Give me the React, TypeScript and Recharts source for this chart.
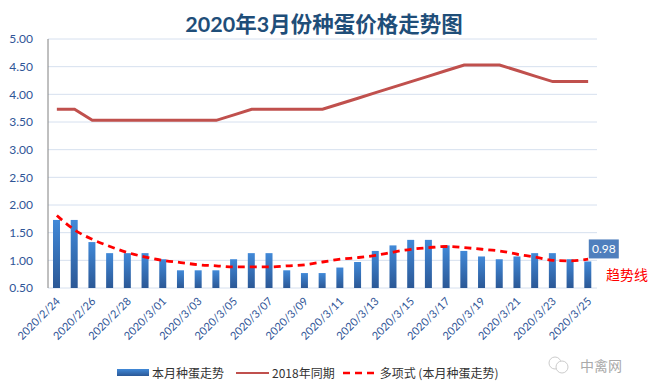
import { Bar, CartesianGrid, ComposedChart, LabelList, Line, XAxis, YAxis } from 'recharts';

const dates = [
  '2020/2/24', '2020/2/25', '2020/2/26', '2020/2/27', '2020/2/28', '2020/2/29',
  '2020/3/01', '2020/3/02', '2020/3/03', '2020/3/04', '2020/3/05', '2020/3/06',
  '2020/3/07', '2020/3/08', '2020/3/09', '2020/3/10', '2020/3/11', '2020/3/12',
  '2020/3/13', '2020/3/14', '2020/3/15', '2020/3/16', '2020/3/17', '2020/3/18',
  '2020/3/19', '2020/3/20', '2020/3/21', '2020/3/22', '2020/3/23', '2020/3/24',
  '2020/3/25',
];

// 本月种蛋走势
const thisMonth = [
  1.73, 1.73, 1.33, 1.13, 1.13, 1.13, 1.02, 0.82, 0.82, 0.82, 1.02, 1.13, 1.13,
  0.82, 0.77, 0.77, 0.87, 0.97, 1.17, 1.27, 1.37, 1.37, 1.27, 1.17, 1.07, 1.02,
  1.07, 1.13, 1.13, 1.02, 0.98,
];

// 2018年同期
const lastYear = [
  3.73, 3.73, 3.53, 3.53, 3.53, 3.53, 3.53, 3.53, 3.53, 3.53, 3.63, 3.73, 3.73,
  3.73, 3.73, 3.73, 3.83, 3.93, 4.03, 4.13, 4.23, 4.33, 4.43, 4.53, 4.53, 4.53,
  4.43, 4.33, 4.23, 4.23, 4.23,
];

// 多项式 (本月种蛋走势)
const trend = [
  1.81, 1.55, 1.38, 1.25, 1.14, 1.06, 1.0, 0.96, 0.92, 0.9, 0.88, 0.88, 0.88,
  0.9, 0.92, 0.97, 1.02, 1.05, 1.09, 1.15, 1.2, 1.23, 1.25, 1.23, 1.2, 1.17,
  1.11, 1.06, 1.0, 0.99, 1.02,
];

const yTicks = [0.5, 1, 1.5, 2, 2.5, 3, 3.5, 4, 4.5, 5];

const data = dates.map((date, i) => ({
  date,
  price: thisMonth[i],
  last: lastYear[i],
  trend: trend[i],
}));

const NUM_FONT = 'Lato, "Noto Sans CJK SC", sans-serif';
const CJK_FONT = '"Noto Sans CJK SC", Lato, sans-serif';
const AXIS_BLUE = '#2F5597';

const XTick = ({ x, y, payload }: any) => (
  <text
    x={x + 4}
    y={y + 6}
    transform={`rotate(-45, ${x + 4}, ${y + 6})`}
    textAnchor="end"
    fill={AXIS_BLUE}
    fontSize={11}
    fontFamily={NUM_FONT}
  >
    {payload.value}
  </text>
);

const LastLabel = (props: any) => {
  const { x, y, width, value, index } = props;
  if (index !== data.length - 1) return null;
  const bx = x + width / 2 + 1;
  const by = y - 22;
  return (
    <g>
      <rect x={bx} y={by} width={30} height={19} fill="#4F7FBD" />
      <text
        x={bx + 15}
        y={by + 14}
        textAnchor="middle"
        fill="#fff"
        fontSize={12}
        fontFamily={NUM_FONT}
      >
        {value.toFixed(2)}
      </text>
    </g>
  );
};

const legendText = { fontSize: 12, color: '#333', fontFamily: CJK_FONT };

export default function App() {
  return (
    <div
      style={{
        position: 'absolute',
        left: 0,
        top: 0,
        width: 648,
        height: 391,
        background: '#fff',
        overflow: 'hidden',
      }}
    >
      <div
        style={{
          position: 'absolute',
          left: 0,
          top: 10,
          width: 648,
          textAlign: 'center',
          fontSize: 21.5,
          fontWeight: 'bold',
          color: '#1F4E79',
          fontFamily: NUM_FONT,
          lineHeight: '28px',
        }}
      >
        2020年3月份种蛋价格走势图
      </div>

      <ComposedChart
        width={648}
        height={391}
        data={data}
        margin={{ top: 39, right: 51, left: 0, bottom: 43 }}
      >
        <defs>
          <linearGradient id="barGrad" x1="0" y1="0" x2="0" y2="1">
            <stop offset="0%" stopColor="#4189D8" />
            <stop offset="100%" stopColor="#2B5896" />
          </linearGradient>
        </defs>
        <CartesianGrid vertical={false} stroke="#D6E0EF" />
        <XAxis
          dataKey="date"
          interval={1}
          height={60}
          tickLine={false}
          axisLine={false}
          tick={<XTick />}
        />
        <YAxis
          width={48}
          domain={[0.5, 5]}
          ticks={yTicks}
          tickFormatter={(v: number) => v.toFixed(2)}
          tickLine={false}
          tickMargin={9}
          axisLine={{ stroke: '#808080' }}
          tick={{ fill: AXIS_BLUE, fontSize: 12, fontFamily: NUM_FONT }}
        />
        <Bar
          dataKey="price"
          fill="url(#barGrad)"
          barSize={7}
          isAnimationActive={false}
        >
          <LabelList dataKey="price" content={<LastLabel />} />
        </Bar>
        <Line
          dataKey="last"
          type="linear"
          stroke="#C0504D"
          strokeWidth={3}
          dot={false}
          isAnimationActive={false}
        />
        <Line
          dataKey="trend"
          type="monotone"
          stroke="#FF0000"
          strokeWidth={2.8}
          strokeDasharray="7 5"
          dot={false}
          isAnimationActive={false}
        />
      </ComposedChart>

      <div
        style={{
          position: 'absolute',
          left: 606,
          top: 264,
          color: '#FF0000',
          fontSize: 14,
          fontFamily: CJK_FONT,
          lineHeight: '20px',
        }}
      >
        趋势线
      </div>

      <div
        style={{
          position: 'absolute',
          left: 117,
          top: 364,
          display: 'flex',
          alignItems: 'center',
          whiteSpace: 'nowrap',
        }}
      >
        <span
          style={{
            display: 'inline-block',
            width: 32,
            height: 7,
            background: 'linear-gradient(#4189D8, #2B5896)',
            marginRight: 3,
          }}
        />
        <span style={legendText}>本月种蛋走势</span>
        <span
          style={{
            display: 'inline-block',
            width: 33,
            height: 0,
            borderTop: '2px solid #C0504D',
            marginLeft: 12,
            marginRight: 3,
          }}
        />
        <span style={legendText}>2018年同期</span>
        <svg width={34} height={4} style={{ marginLeft: 8, marginRight: 3 }}>
          <line x1={0} y1={2} x2={34} y2={2} stroke="#FF0000" strokeWidth={2.5} strokeDasharray="7 5" />
        </svg>
        <span style={legendText}>多项式 (本月种蛋走势)</span>
      </div>

      <svg
        width={24}
        height={18}
        style={{ position: 'absolute', left: 547, top: 356 }}
      >
        <circle cx={8} cy={7} r={6} fill="none" stroke="#ccc" strokeWidth={1} />
        <circle cx={15} cy={11} r={6} fill="#fff" stroke="#ccc" strokeWidth={1} />
      </svg>
      <div
        style={{
          position: 'absolute',
          left: 580,
          top: 356,
          color: '#aaa',
          fontSize: 14,
          fontFamily: CJK_FONT,
          lineHeight: '18px',
        }}
      >
        中禽网
      </div>
    </div>
  );
}
